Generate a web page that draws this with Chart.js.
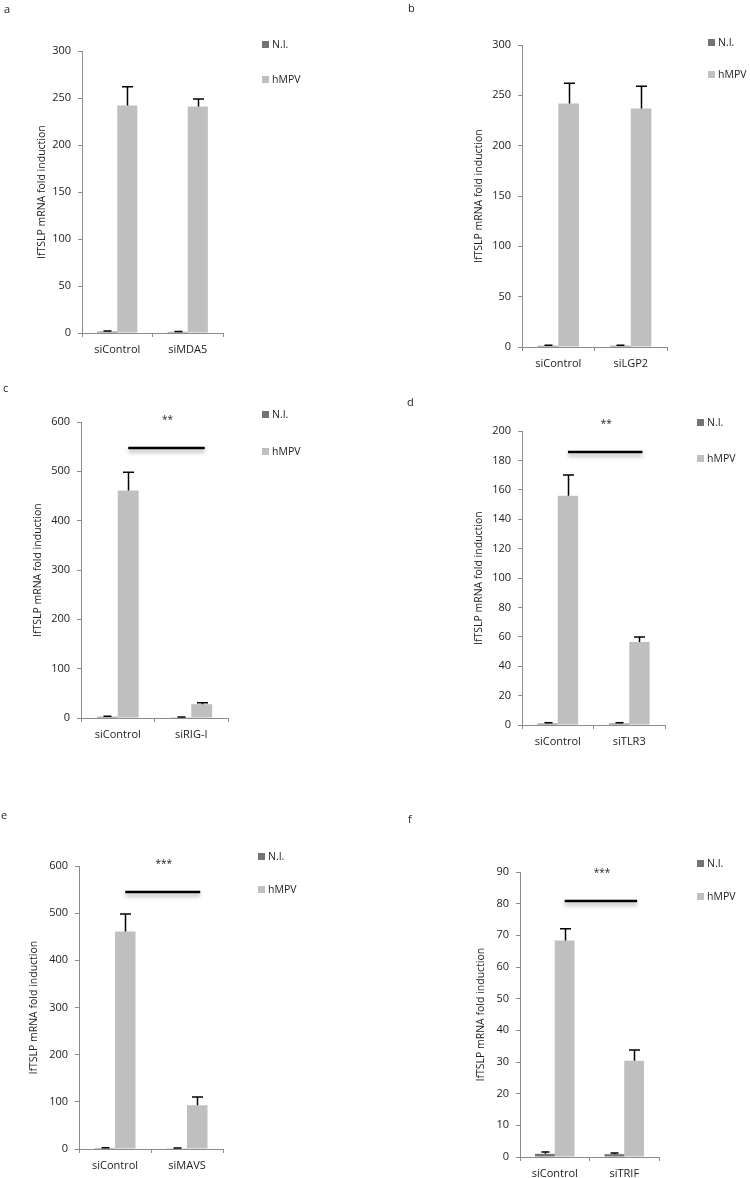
<!DOCTYPE html>
<html><head><meta charset="utf-8">
<script src="https://cdn.jsdelivr.net/npm/chart.js@4.4.1/dist/chart.umd.min.js"></script>
<style>
html,body{margin:0;padding:0;background:#fff;}
body{width:750px;height:1178px;position:relative;overflow:hidden;}
canvas{position:absolute;}
</style></head><body>
<script>
// ---------------- DATA ----------------
const seriesNames = ['N.I.', 'hMPV'];
const yTitle = 'lfTSLP mRNA fold induction';

const catsA = ['siControl', 'siMDA5'];
const niA = [1.5, 1.2];      const niErrA = [0.6, 0.4];
const hmpvA = [242, 241];    const hmpvErrA = [20, 8];

const catsB = ['siControl', 'siLGP2'];
const niB = [1.2, 1.2];      const niErrB = [0.5, 0.5];
const hmpvB = [242, 237];    const hmpvErrB = [20, 22];

const catsC = ['siControl', 'siRIG-I'];
const niC = [2.5, 1.5];      const niErrC = [0.8, 0.5];
const hmpvC = [461, 28];     const hmpvErrC = [37, 3];
const sigC = 547;            const starsC = '**';

const catsD = ['siControl', 'siTLR3'];
const niD = [1.0, 1.0];      const niErrD = [0.5, 0.5];
const hmpvD = [156, 56.5];   const hmpvErrD = [14, 3.3];
const sigD = 185.7;          const starsD = '**';

const catsE = ['siControl', 'siMAVS'];
const niE = [2.0, 1.5];      const niErrE = [0.6, 0.5];
const hmpvE = [461, 93];     const hmpvErrE = [37, 17];
const sigE = 545;            const starsE = '***';

const catsF = ['siControl', 'siTRIF'];
const niF = [1.0, 0.9];      const niErrF = [0.6, 0.4];
const hmpvF = [68.4, 30.4];  const hmpvErrF = [3.7, 3.4];
const sigF = 80.8;           const starsF = '***';

const yMaxs  = [300, 300, 600, 200, 600, 90];
const ySteps = [50, 50, 100, 20, 100, 10];
const panelLetters = ['a', 'b', 'c', 'd', 'e', 'f'];

// ---------------- LAYOUT / STYLE ----------------
const F = "'Open Sans', 'DejaVu Sans', sans-serif";
const TXT = '#222222';
const AX = '#8c8c8c';
const NI_COL = '#737373';
const HMPV_COL = '#bfbfbf';
const YW = 60, XH = 30;

const layout = [
  {left:0,   top:0,   h:380, axisX:82,  topY:51,  zeroY:333,  xEnd:223, letter:[4,13],   leg:[262,44,79],  tOff:40},
  {left:375, top:0,   h:380, axisX:522, topY:45,  zeroY:347,  xEnd:667, letter:[408,12], leg:[708,42,74],  tOff:43},
  {left:0,   top:380, h:400, axisX:81,  topY:422, zeroY:718,  xEnd:228, letter:[3,392],  leg:[262,414,451],tOff:43},
  {left:375, top:380, h:400, axisX:522, topY:431, zeroY:725,  xEnd:665, letter:[407,406],leg:[697,422,458],tOff:43},
  {left:0,   top:780, h:398, axisX:79,  topY:866, zeroY:1149, xEnd:223, letter:[1,819],  leg:[258,856,889],tOff:45},
  {left:375, top:780, h:398, axisX:520, topY:872, zeroY:1157, xEnd:659, letter:[408,823],leg:[697,863,896],tOff:39}
];

const panelData = [
  {cats:catsA, ni:niA, niErr:niErrA, hm:hmpvA, hmErr:hmpvErrA, sig:null, stars:null},
  {cats:catsB, ni:niB, niErr:niErrB, hm:hmpvB, hmErr:hmpvErrB, sig:null, stars:null},
  {cats:catsC, ni:niC, niErr:niErrC, hm:hmpvC, hmErr:hmpvErrC, sig:sigC, stars:starsC},
  {cats:catsD, ni:niD, niErr:niErrD, hm:hmpvD, hmErr:hmpvErrD, sig:sigD, stars:starsD},
  {cats:catsE, ni:niE, niErr:niErrE, hm:hmpvE, hmErr:hmpvErrE, sig:sigE, stars:starsE},
  {cats:catsF, ni:niF, niErr:niErrF, hm:hmpvF, hmErr:hmpvErrF, sig:sigF, stars:starsF}
];

const annot = {
  id: 'annot',
  afterDatasetsDraw(chart, args, opts) {
    const ctx = chart.ctx, ys = chart.scales.y;
    ctx.save();
    ctx.strokeStyle = '#000';
    ctx.lineWidth = 1.5;
    chart.data.datasets.forEach((ds, di) => {
      const meta = chart.getDatasetMeta(di);
      meta.data.forEach((bar, i) => {
        const v = ds.data[i], e = ds.err[i];
        const y0 = ys.getPixelForValue(v), y1 = ys.getPixelForValue(v + e);
        const x = Math.round(bar.x) + 0.5;
        const cw = di === 0 ? 4 : 5.5;
        ctx.beginPath();
        ctx.moveTo(x, y0); ctx.lineTo(x, y1);
        ctx.moveTo(x - cw, y1); ctx.lineTo(x + cw, y1);
        ctx.stroke();
      });
    });
    ctx.restore();
  },
  afterDraw(chart, args, opts) {
    const ctx = chart.ctx, L = opts.L, P = opts.P, ys = chart.scales.y;
    ctx.save();
    // panel letter
    ctx.fillStyle = TXT;
    ctx.font = '11px ' + F;
    ctx.textBaseline = 'alphabetic';
    ctx.textAlign = 'left';
    ctx.fillText(opts.letter, L.letter[0] - L.left, L.letter[1] - L.top);
    // legend
    ctx.font = '10.5px ' + F;
    ctx.textBaseline = 'middle';
    const cols = [NI_COL, HMPV_COL];
    [L.leg[1], L.leg[2]].forEach((yy, k) => {
      const x = L.leg[0] - L.left, y = yy - L.top;
      ctx.fillStyle = cols[k];
      ctx.fillRect(x, y - 3, 7, 7);
      ctx.fillStyle = TXT;
      ctx.fillText(seriesNames[k], x + 10, y + 1);
    });
    // significance line
    if (P.sig !== null) {
      const m = chart.getDatasetMeta(1);
      const xa = m.data[0].x, xb = m.data[1].x + 3;
      const y = Math.round(ys.getPixelForValue(P.sig));
      ctx.save();
      ctx.shadowColor = 'rgba(0,0,0,0.35)';
      ctx.shadowBlur = 4;
      ctx.shadowOffsetY = 3;
      ctx.strokeStyle = '#000';
      ctx.lineWidth = 2.5;
      ctx.beginPath(); ctx.moveTo(xa, y); ctx.lineTo(xb, y); ctx.stroke();
      ctx.restore();
      ctx.fillStyle = TXT;
      ctx.font = '10px ' + F;
      ctx.textAlign = 'center';
      ctx.textBaseline = 'middle';
      ctx.fillText(P.stars, (xa + xb) / 2 + 1, y - 28);
    }
    ctx.restore();
  }
};

layout.forEach((L, idx) => {
  const P = panelData[idx];
  const cv = document.createElement('canvas');
  cv.width = 375; cv.height = L.h;
  cv.style.left = L.left + 'px'; cv.style.top = L.top + 'px';
  cv.style.width = '375px'; cv.style.height = L.h + 'px';
  document.body.appendChild(cv);
  new Chart(cv, {
    type: 'bar',
    data: {
      labels: P.cats,
      datasets: [
        {label: seriesNames[0], data: P.ni, err: P.niErr, backgroundColor: NI_COL, borderWidth: 0},
        {label: seriesNames[1], data: P.hm, err: P.hmErr, backgroundColor: HMPV_COL, borderWidth: 0}
      ]
    },
    plugins: [annot],
    options: {
      responsive: false, animation: false, devicePixelRatio: 1,
      categoryPercentage: 0.57, barPercentage: 1.0,
      layout: {padding: {left: L.axisX - L.left - YW, top: L.topY - L.top,
                         right: L.left + 375 - L.xEnd, bottom: L.top + L.h - L.zeroY - XH}},
      plugins: {legend: {display: false}, tooltip: {enabled: false},
                annot: {L: L, P: P, letter: panelLetters[idx]}},
      scales: {
        x: {
          grid: {display: true, drawOnChartArea: false, drawTicks: true, tickLength: 4, color: AX, offset: true},
          border: {display: true, color: AX, width: 1},
          ticks: {font: {size: 11, family: F}, color: TXT, padding: 6, maxRotation: 0},
          afterFit(s) { s.height = XH; }
        },
        y: {
          min: 0, max: yMaxs[idx],
          ticks: {stepSize: ySteps[idx], font: {size: 11, family: F}, color: TXT, padding: 7},
          grid: {display: true, drawOnChartArea: false, drawTicks: true, tickLength: 4, color: AX},
          border: {display: true, color: AX, width: 1},
          title: {display: true, text: yTitle, color: TXT, font: {size: 10.5, family: F},
                  padding: {top: YW - L.tOff - 6, bottom: 0}},
          afterFit(s) { s.width = YW; }
        }
      }
    }
  });
});
</script>
</body></html>
